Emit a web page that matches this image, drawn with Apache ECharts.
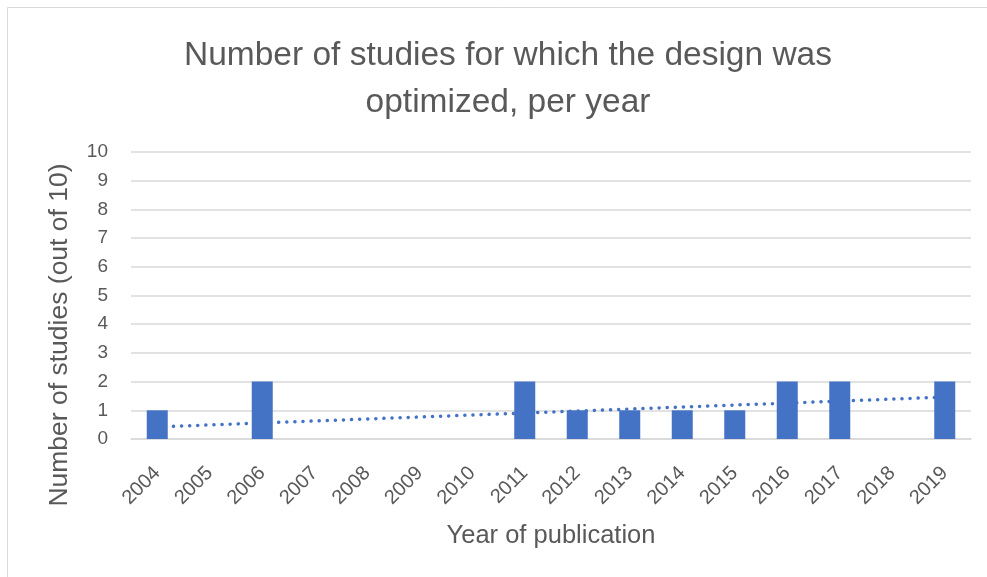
<!DOCTYPE html>
<html><head><meta charset="utf-8">
<script src="https://cdn.jsdelivr.net/npm/echarts@6/dist/echarts.min.js"></script>
<style>html,body{margin:0;padding:0;background:#fff}#c{width:987px;height:577px}</style>
</head><body><div id="c"></div>
<script>
const years = ['2004','2005','2006','2007','2008','2009','2010','2011','2012','2013','2014','2015','2016','2017','2018','2019'];
const studies = [1,0,2,0,0,0,0,2,1,1,1,1,2,2,0,2];
const trendStart = 0.42;   // trendline value read at 2004
const trendEnd = 1.46;     // trendline value read at 2019
const titleText = 'Number of studies for which the design was\noptimized, per year';
const yName = 'Number of studies (out of 10)';
const xName = 'Year of publication';

const trend = years.map((y,i)=> i===0 ? trendStart : (i===years.length-1 ? trendEnd : '-'));
const font = 'Liberation Sans';
const grey = '#595959';
const chart = echarts.init(document.getElementById('c'));
chart.setOption({
  animation:false,
  textStyle:{fontFamily:font},
  graphic:[
    {type:'rect',shape:{x:7.5,y:7.5,width:1000,height:600},style:{fill:'none',stroke:'#d9d9d9',lineWidth:1}},
    {type:'text',x:60,y:335,rotation:Math.PI/2,style:{text:yName,fill:grey,font:'26.5px "Liberation Sans"',align:'center',verticalAlign:'middle'}}
  ],
  title:{text:titleText,left:503,top:27,textAlign:'center',textStyle:{fontFamily:font,fontWeight:'normal',fontSize:33.5,color:grey,lineHeight:47}},
  grid:{left:131,right:16,top:152,bottom:138},
  xAxis:{type:'category',data:years,
    axisLine:{show:true,lineStyle:{color:'#d9d9d9',width:1.5}},axisTick:{show:false},
    axisLabel:{rotate:45,margin:31,color:grey,fontSize:20,fontFamily:font,interval:0},
    name:xName,nameLocation:'middle',nameGap:84,nameTextStyle:{color:grey,fontSize:25.5,fontFamily:font}},
  yAxis:{type:'value',min:0,max:10,interval:1,
    axisLine:{show:false},axisTick:{show:false},
    splitLine:{lineStyle:{color:'#d9d9d9',width:1.5}},
    axisLabel:{color:grey,fontSize:19,fontFamily:font,margin:23}},
  series:[
    {type:'bar',data:studies,barWidth:'40%',itemStyle:{color:'#4472C4'}},
    {type:'line',data:trend,connectNulls:true,symbol:'none',z:1,
     lineStyle:{color:'#4472C4',width:3.5,type:[0.1,8],cap:'round'}}
  ]
});
</script></body></html>
